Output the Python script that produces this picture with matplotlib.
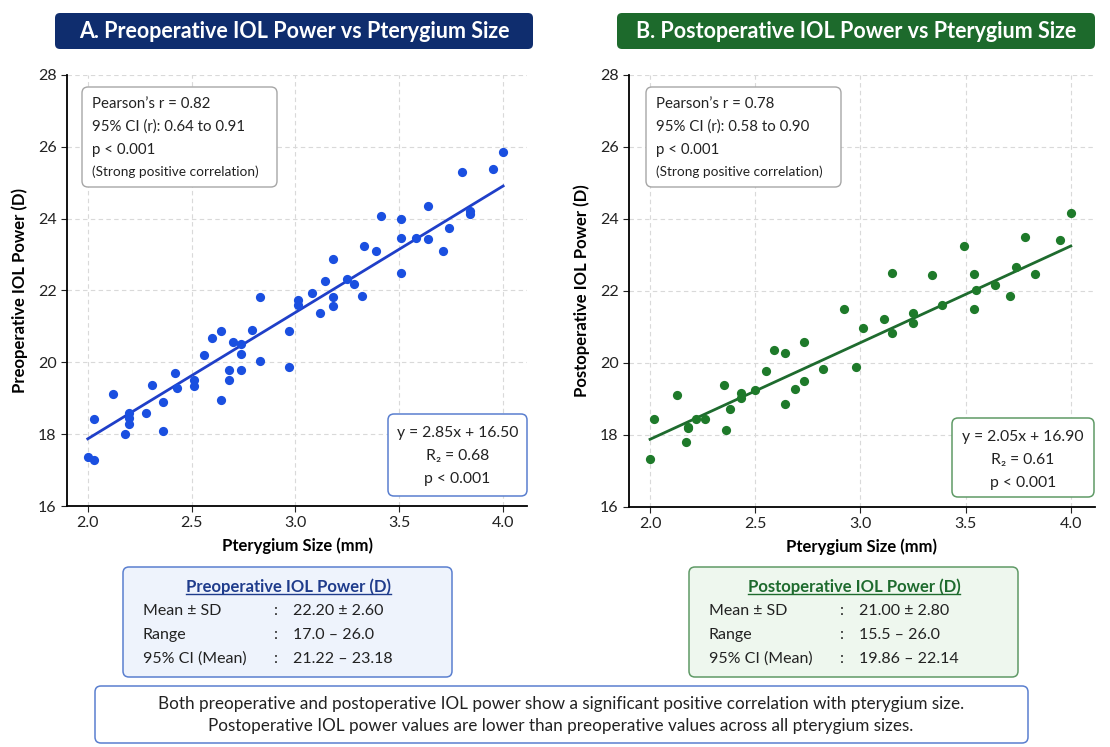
import matplotlib.pyplot as plt
import numpy as np
from matplotlib.patches import FancyBboxPatch
from matplotlib.lines import Line2D

plt.rcParams['font.family'] = ['Lato', 'DejaVu Sans']

# ---- data ----
pre_size = [2.00, 2.03, 2.03, 2.12, 2.18, 2.20, 2.20, 2.20, 2.28, 2.31, 2.36, 2.36,
            2.42, 2.43, 2.51, 2.51, 2.56, 2.60, 2.64, 2.64, 2.68, 2.68, 2.70, 2.74,
            2.74, 2.74, 2.79, 2.83, 2.83, 2.97, 2.97, 3.01, 3.01, 3.08, 3.12, 3.14,
            3.18, 3.18, 3.18, 3.25, 3.28, 3.32, 3.33, 3.39, 3.41, 3.51, 3.51, 3.51,
            3.58, 3.64, 3.64, 3.71, 3.74, 3.80, 3.84, 3.84, 3.95, 4.00]
pre_iol = [17.36, 17.29, 18.41, 19.13, 18.00, 18.29, 18.45, 18.59, 18.60, 19.38, 18.89, 18.10,
           19.71, 19.29, 19.52, 19.34, 20.21, 20.67, 20.88, 18.94, 19.80, 19.52, 20.57, 20.50,
           20.24, 19.78, 20.89, 21.82, 20.03, 20.86, 19.87, 21.73, 21.59, 21.93, 21.38, 22.27,
           22.87, 21.82, 21.57, 22.31, 22.17, 21.84, 23.23, 23.10, 24.07, 23.98, 23.46, 22.48,
           23.46, 24.36, 23.42, 23.10, 23.73, 25.29, 24.12, 24.21, 25.39, 25.86]

post_size = [2.00, 2.02, 2.13, 2.17, 2.18, 2.18, 2.22, 2.26, 2.35, 2.36, 2.38, 2.43,
             2.43, 2.50, 2.55, 2.59, 2.64, 2.64, 2.69, 2.73, 2.73, 2.82, 2.92, 2.98,
             3.01, 3.11, 3.15, 3.15, 3.25, 3.25, 3.34, 3.39, 3.49, 3.54, 3.55, 3.54,
             3.64, 3.71, 3.74, 3.78, 3.83, 3.95, 4.00]
post_iol = [17.33, 18.44, 19.11, 17.81, 18.20, 18.22, 18.44, 18.44, 19.40, 18.15, 18.71, 19.17,
            19.03, 19.24, 19.77, 20.37, 20.29, 18.87, 19.28, 20.59, 19.49, 19.84, 21.51, 19.88,
            20.97, 21.22, 22.49, 20.84, 21.40, 21.12, 22.45, 21.60, 23.25, 22.47, 22.02, 21.50,
            22.16, 21.85, 22.68, 23.50, 22.48, 23.42, 24.17]

# trend lines as drawn (value at size 2.0 and 4.0)
trend_x = [2.0, 4.0]
pre_trend = [17.87, 24.91]
post_trend = [17.88, 23.25]

titles = ["A. Preoperative IOL Power vs Pterygium Size",
          "B. Postoperative IOL Power vs Pterygium Size"]
ylabels = ["Preoperative IOL Power (D)", "Postoperative IOL Power (D)"]
corr_text = [["Pearson\u2019s r = 0.82", "95% CI (r): 0.64 to 0.91", "p < 0.001"],
             ["Pearson\u2019s r = 0.78", "95% CI (r): 0.58 to 0.90", "p < 0.001"]]
eq_text = [["y = 2.85x + 16.50", "R\u2082 = 0.68", "p < 0.001"],
           ["y = 2.05x + 16.90", "R\u2082 = 0.61", "p < 0.001"]]
sum_titles = ["Preoperative IOL Power (D)", "Postoperative IOL Power (D)"]
sum_labels = ["Mean \u00b1 SD", "Range", "95% CI (Mean)"]
sum_values = [["22.20 \u00b1 2.60", "17.0 \u2013 26.0", "21.22 \u2013 23.18"],
              ["21.00 \u00b1 2.80", "15.5 \u2013 26.0", "19.86 \u2013 22.14"]]
note = ("Both preoperative and postoperative IOL power show a significant positive correlation with pterygium size.\n"
        "Postoperative IOL power values are lower than preoperative values across all pterygium sizes.")

W, H = 1110, 747
fig = plt.figure(figsize=(W / 100, H / 100), dpi=100)
tr = fig.dpi_scale_trans


def box(x0, y0, x1, y1, fc, ec, lw=1.2, r=0.06):
    # pixel coords from top-left
    p = FancyBboxPatch((x0 / 100, (H - y1) / 100), (x1 - x0) / 100, (y1 - y0) / 100,
                       boxstyle=f"round,pad=0,rounding_size={r}", fc=fc, ec=ec, lw=lw,
                       transform=tr, zorder=5)
    fig.patches.append(p)


def txt(x, y, s, **kw):
    return fig.text(x / W, 1 - y / H, s, zorder=6, **kw)


navy = '#0f2d6e'
dgreen = '#1d6a2c'
dot_cols = ['#1a4fe0', '#1e7a2a']
line_cols = ['#1f3fc8', '#1e6b2e']
title_cols = [navy, dgreen]
eq_edges = ['#5a7fcf', '#5f9a66']
sum_fc = ['#eef3fc', '#eef7ee']
sum_title_cols = ['#1f3c8c', '#1e6b2e']

xs_all = [pre_size, post_size]
ys_all = [pre_iol, post_iol]
trends = [pre_trend, post_trend]
ax_pos = [[67 / W, 1 - 506 / H, 460 / W, 431 / H],
          [629 / W, 1 - 507 / H, 466 / W, 432 / H]]
x_off = [0, 562]

for i in range(2):
    ax = fig.add_axes(ax_pos[i])
    ax.scatter(xs_all[i], ys_all[i], s=44, color=dot_cols[i], zorder=3, linewidths=0)
    ax.plot(trend_x, trends[i], color=line_cols[i], lw=2, zorder=2)
    ax.set_xlim(1.9, 4.115)
    ax.set_ylim(16, 28)
    ax.set_xticks([2.0, 2.5, 3.0, 3.5, 4.0])
    ax.set_yticks(range(16, 29, 2))
    ax.tick_params(labelsize=11.5, length=4, colors='#222222')
    ax.grid(True, ls=(0, (4, 3)), color='#d9d9d9', lw=0.8)
    ax.set_axisbelow(True)
    for s in ['top', 'right']:
        ax.spines[s].set_visible(False)
    ax.spines['left'].set_linewidth(1.3)
    ax.spines['bottom'].set_linewidth(1.3)
    ax.set_xlabel("Pterygium Size (mm)", fontsize=12, fontweight='bold', labelpad=5)
    ax.set_ylabel(ylabels[i], fontsize=12, fontweight='bold', labelpad=7)

    o = x_off[i]
    # title banner
    box(55 + o, 13, 533 + o, 49, title_cols[i], title_cols[i], lw=0, r=0.05)
    txt(294 + o, 32, titles[i], color='white', fontsize=15.5, fontweight='bold',
        ha='center', va='center')

    # correlation box
    cx = 82 + (2 if i else 0)
    box(cx + o, 87, cx + 195 + o, 187, 'white', '#a6a6a6', lw=1.0)
    for k, s in enumerate(corr_text[i]):
        txt(cx + 10 + o, 104 + k * 23, s, fontsize=10.8, ha='left', va='center', color='#222222')
    txt(cx + 10 + o, 172, "(Strong positive correlation)", fontsize=9.8, ha='left', va='center',
        color='#222222')

    # equation box
    ex0, ex1 = (388, 527) if i == 0 else (952 - o, 1094 - o)
    ey0, ey1 = (414, 496) if i == 0 else (418, 497)
    box(ex0 + o, ey0, ex1 + o, ey1, 'white', eq_edges[i], lw=1.1)
    exm = (ex0 + ex1) / 2 + o
    for k, s in enumerate(eq_text[i]):
        txt(exm, ey0 + 19 + k * 23, s, fontsize=11.3, ha='center', va='center', color='#222222')

    # summary box
    sx0 = 123 + (566 if i else 0)
    box(sx0, 567, sx0 + 329, 677, sum_fc[i], eq_edges[i], lw=1.1)
    t = txt(sx0 + 165, 587, sum_titles[i], fontsize=12, fontweight='bold', ha='center',
            va='center', color=sum_title_cols[i])
    t.set_gid('u%d' % i)
    for k in range(3):
        yy = 611 + k * 24
        txt(sx0 + 20, yy, sum_labels[k], fontsize=11.5, ha='left', va='center', color='#222222')
        txt(sx0 + 151, yy, ":", fontsize=11.5, ha='left', va='center', color='#222222')
        txt(sx0 + 170, yy, sum_values[i][k], fontsize=11.5, ha='left', va='center', color='#222222')

# underline summary titles
fig.canvas.draw()
r = fig.canvas.get_renderer()
for t in fig.texts:
    if t.get_gid() in ('u0', 'u1'):
        bb = t.get_window_extent(r)
        yline = bb.y0 + 1
        fig.lines.append(Line2D([bb.x0 / 100, bb.x1 / 100], [yline / 100, yline / 100],
                                transform=tr, color=t.get_color(), lw=1, zorder=7))

# bottom note
box(95, 686, 1028, 743, 'white', '#5a7fcf', lw=1.1)
txt(561, 715, note, fontsize=12.3, ha='center', va='center', color='#222222', linespacing=1.45)

fig.savefig("out.png", dpi=100)
